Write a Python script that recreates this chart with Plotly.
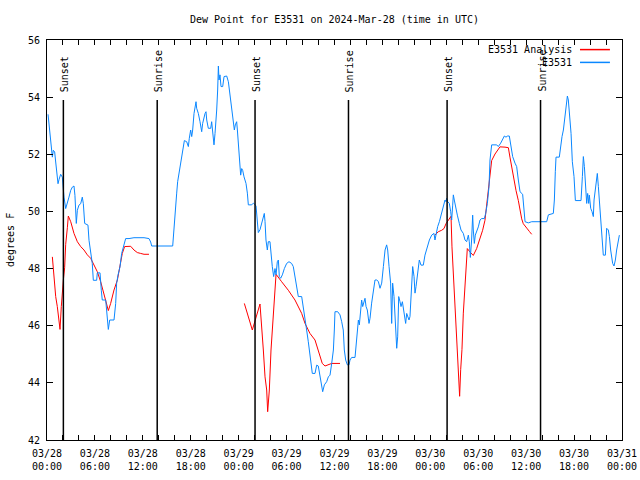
import pandas as pd
import plotly.graph_objects as go

# ---------------- data ----------------
start = pd.Timestamp("2024-03-28 00:00")

# E3531 observations (hours since 03/28 00:00 UTC, degrees F)
obs_hours = [
    0.13, 0.33, 0.46, 0.58, 0.67, 0.79, 0.96, 1.09, 1.21, 1.38, 1.5, 1.71, 1.92, 2.05, 2.13, 2.34,
    2.55, 2.75, 2.97, 3.17, 3.38, 3.5, 3.67, 3.8, 4.0, 4.22, 4.42, 4.55, 4.72, 5.13, 5.26, 5.47,
    5.67, 5.8, 6.22, 6.3, 6.64, 6.8, 6.92, 7.35, 7.47, 7.55, 7.68, 7.85, 8.39, 8.6, 8.72, 8.89,
    9.14, 9.35, 9.56, 9.85, 10.27, 10.89, 12.15, 12.77, 12.98,
    13.11, 15.74, 15.82, 15.9, 16.03, 16.16, 16.24, 16.36, 16.53, 16.66, 16.86, 17.07, 17.2, 17.49,
    17.7, 17.82, 17.99, 18.12, 18.24, 18.41, 18.53, 18.66, 18.74, 18.95, 19.16, 19.37, 19.49, 19.66,
    19.79, 19.91, 20.0, 20.2, 20.5, 20.62, 20.75, 20.91, 21.04, 21.16, 21.25, 21.37, 21.46, 21.54,
    21.66, 21.79, 22.0, 22.17, 22.5, 22.71, 22.83, 23.0, 23.13, 23.34, 23.46, 23.58, 23.75, 23.84,
    23.96, 24.09, 24.25, 24.38, 24.5, 24.67, 24.92, 25.09, 25.21, 25.63, 25.84, 26.17, 26.34, 26.46,
    26.67, 26.88, 27.09, 27.21, 27.3, 27.42, 27.59, 27.71, 27.92, 28.05, 28.21, 28.38, 28.55, 28.68,
    28.84, 28.97, 29.09, 29.26, 29.47, 29.72, 30.01, 30.3, 30.63, 30.84, 31.05, 31.26, 31.47, 31.89,
    32.1, 32.31, 32.51, 32.72, 32.93, 33.06, 33.22, 33.56, 33.77, 33.97, 34.18, 34.39, 34.52, 34.73,
    35.02, 35.23, 35.44, 35.65, 35.86, 35.98, 36.06, 36.4, 36.69, 36.9, 37.1,
    37.23, 37.4, 37.61, 37.82, 37.94, 38.15, 38.57, 38.69, 38.86, 38.99, 39.11, 39.28, 39.4, 39.53,
    39.7, 39.82, 39.95, 40.11, 40.32, 40.45, 40.65, 40.86, 41.07, 41.28, 41.49, 41.7, 41.91, 42.12,
    42.33, 42.53, 42.66, 42.83, 43.03, 43.16, 43.28, 43.45, 43.58, 43.7, 43.79, 43.91, 44.04, 44.2,
    44.33, 44.5, 44.62, 44.75, 44.91, 45.04, 45.16, 45.33, 45.45, 45.58, 45.79, 45.96, 46.08, 46.21,
    46.41, 46.62, 46.83, 47.12, 47.33, 47.62, 47.88, 48.17, 48.46, 48.58, 48.71, 48.92, 49.13, 49.34,
    49.55, 49.84, 49.96, 50.04, 50.17, 50.38, 50.55, 50.67, 50.8, 50.88, 51.0, 51.17, 51.38, 51.63,
    51.84, 52.13, 52.34, 52.55, 52.76, 52.88, 53.01, 53.17, 53.3, 53.38, 53.51, 53.63, 53.8, 54.01,
    54.22, 54.43, 54.76, 54.93, 55.14, 55.35, 55.47, 55.68, 56.31, 56.51, 56.81, 57.06, 57.27, 57.47,
    57.68, 57.89, 58.06, 58.31, 58.6, 58.81, 59.02, 59.23,
    59.56, 59.73, 59.86, 60.27, 60.69, 62.57, 62.78, 63.4, 63.53, 63.65, 63.74, 64.15, 64.32, 64.49,
    64.66, 64.78, 64.95, 65.07, 65.16, 65.28, 65.41, 65.62, 65.78, 65.99, 66.16, 66.87, 67.04, 67.16,
    67.29, 67.41, 67.58, 67.7, 67.83, 67.91, 68.08, 68.25, 68.41, 68.5, 68.66, 68.79, 68.91, 69.04,
    69.16, 69.33, 69.5, 69.66, 69.92, 70.08, 70.29, 70.42, 70.58, 70.83, 71.0, 71.17, 71.33, 71.5, 71.67,
]
obs_values = [
    53.4, 52.84, 52.49, 52.08, 51.9, 52.14, 52.08, 51.73, 51.38, 50.97, 51.11, 51.3, 51.2, 50.74, 50.5, 50.1,
    50.27, 50.5, 50.74, 50.85, 50.89, 50.56, 49.58, 50.04, 50.22, 50.27, 50.5, 50.27, 49.58, 49.52, 48.99, 48.53,
    48.18, 47.59, 47.59, 47.85, 47.85, 47.24, 46.9, 46.9, 46.55, 46.2, 45.87, 46.2, 46.2, 46.78, 47.48, 47.77,
    48.06, 48.53, 48.76, 49.05, 49.05, 49.08, 49.08, 49.05, 48.93,
    48.79, 48.79, 49.12, 49.58, 49.94, 50.29, 50.64, 51.04, 51.33, 51.68, 51.98, 52.27, 52.48, 52.44,
    52.27, 52.56, 52.85, 52.62, 52.85, 53.43, 53.73, 53.84, 53.61, 53.43, 53.14, 52.79, 53.08, 53.32,
    53.43, 53.49, 53.2, 52.91, 52.91, 53.14, 52.85, 52.33, 52.73, 53.14, 53.55, 54.25, 55.09, 54.6,
    54.78, 54.37, 54.37, 54.72, 54.74, 54.54, 54.25, 53.78, 53.49, 53.08, 52.85, 53.03, 53.14, 52.85,
    52.38, 51.91, 51.27, 51.5, 51.44, 51.21, 50.98, 50.64, 50.23, 50.23, 50.29, 50.2, 49.7, 49.26,
    49.36, 49.58, 49.82, 49.93, 49.65, 49.0, 48.65, 48.94, 48.94, 48.42, 48.07, 47.72, 48.0, 47.78,
    48.24, 48.3, 47.72, 47.66, 47.78, 48.0, 48.18, 48.24, 48.18, 48.07, 47.72, 47.25, 47.02, 47.02,
    46.67, 46.2, 45.85, 45.44, 45.03, 44.68, 44.33, 44.33, 44.62, 44.59, 44.21, 43.98, 43.69, 43.93,
    44.04, 44.21, 44.27, 44.68, 45.15, 45.85, 46.49, 46.49, 46.38, 46.14, 45.85,
    45.15, 44.8, 44.63, 44.63, 44.8, 44.89, 44.89, 45.27, 45.85, 46.2, 46.03, 46.67, 46.9, 46.67,
    46.84, 46.96, 46.67, 46.55, 46.08, 46.26, 46.79, 47.14, 47.6, 47.6, 47.55, 47.31, 47.49, 48.07,
    48.65, 48.83, 48.65, 48.07, 47.49, 46.08, 47.49, 47.02, 46.08, 45.5, 45.21, 45.61, 47.02, 46.84,
    46.67, 46.84, 46.61, 46.32, 46.08, 46.43, 46.32, 46.2, 46.32, 47.14, 48.07, 47.72, 47.14, 47.37,
    47.84, 48.3, 48.12, 48.12, 48.47, 48.77, 49.0, 49.17, 49.23, 49.0, 49.23, 49.47, 49.64, 49.88,
    50.05, 50.4, 50.34, 50.46, 50.34, 50.28, 49.99, 49.7, 50.22, 50.58, 50.4, 50.11, 49.87, 49.58,
    49.35, 49.23, 49.0, 48.94, 49.17, 48.94, 48.39, 49.0, 49.87, 49.35, 48.88, 49.17, 49.29, 49.46,
    49.7, 49.75, 49.75, 49.93, 50.28, 50.87, 51.8, 52.33, 52.33, 52.27, 52.39, 52.52, 52.64, 52.6,
    52.64, 52.64, 52.27, 51.92, 51.69, 51.57, 51.1, 50.69,
    50.6, 50.17, 49.64, 49.6, 49.64, 49.64, 49.88, 49.93, 50.4, 51.39, 51.9, 51.9, 52.38, 52.62,
    52.85, 53.2, 53.49, 53.78, 54.04, 53.9, 53.43, 52.73, 51.74, 51.22, 50.38, 50.38, 51.22, 51.92,
    51.57, 50.81, 50.28, 50.63, 50.28, 50.57, 50.11, 49.99, 49.82, 50.4, 50.87, 51.16, 51.33, 50.87,
    50.4, 49.47, 49.12, 48.47, 48.47, 49.41, 49.35, 49.12, 48.65, 48.18, 48.09, 48.3, 48.65, 49.0, 49.17,
]

# E3531 Analysis (None = gap between analysis runs)
ana_hours = [
    0.67, 0.79, 0.96, 1.09, 1.29, 1.42, 1.63, 1.79, 1.92, 2.05, 2.21, 2.34, 2.55, 2.67, 2.97, 3.38,
    3.8, 4.22, 4.63, 5.05, 5.47, 5.8, 6.3, 6.72, 7.14, 7.68, 7.97, 8.39, 8.81, 9.14, 9.43, 9.72,
    10.06, 10.48, 10.89, 11.31, 11.73, 12.15, 12.77,
    None,
    24.71, 25.71, 26.67, 26.88, 27.09, 27.3, 27.51, 27.63, 27.84, 28.05, 28.34, 28.55, 28.68, 29.38,
    30.22, 31.05, 31.89, 32.31, 32.93, 33.56, 33.97, 34.47, 34.81, 35.65, 36.69,
    None,
    48.58, 49.0, 49.42, 49.71, 49.96, 50.25, 50.59, 50.71, 50.88, 51.0, 51.17, 51.3, 51.42, 51.59,
    51.67, 51.8, 51.96, 52.13, 52.3, 52.47, 52.63, 52.97, 53.38, 53.8, 54.22, 54.55, 54.84, 55.05,
    55.26, 55.47, 55.68, 56.1, 56.51, 56.72, 57.35, 57.77, 57.97, 58.18, 58.48, 58.73, 59.02, 59.23,
    59.44, 59.64, 59.85, 60.15, 60.4, 60.69,
]
ana_values = [
    48.41, 47.95, 47.6, 47.02, 46.67, 46.32, 45.87, 46.67, 47.25, 47.6, 48.03, 48.85, 49.43, 49.84, 49.64, 49.23,
    48.94, 48.77, 48.65, 48.48, 48.36, 48.18, 47.89, 47.54, 47.13, 46.53, 46.78, 47.25, 47.6, 48.07, 48.53, 48.77,
    48.78, 48.78, 48.65, 48.56, 48.53, 48.5, 48.5,
    None,
    46.78, 45.85, 46.76, 46.08, 45.15, 44.21, 43.75, 42.99, 43.75, 45.15, 46.55, 47.24, 47.8, 47.54,
    47.24, 46.9, 46.43, 46.08, 45.73, 45.5, 45.15, 44.68, 44.59, 44.68, 44.68,
    None,
    49.17, 49.29, 49.34, 49.4, 49.57, 49.69, 49.83, 48.76, 47.83, 47.13, 46.32, 45.51, 44.81, 43.88,
    43.53, 44.46, 45.16, 46.44, 47.13, 48.06, 48.7, 48.58, 48.46, 48.7, 49.05, 49.34, 49.69, 50.27,
    50.85, 51.37, 51.78, 52.01, 52.18, 52.26, 52.25, 52.23, 51.9, 51.55, 51.14, 50.73, 50.38, 50.03,
    49.74, 49.57, 49.48, 49.39, 49.3, 49.2,
]

# Sunset / sunrise markers (hours since start)
event_hours = [2.05, 13.8, 26.05, 37.75, 50.1, 61.8]
event_labels = ["Sunset", "Sunrise", "Sunset", "Sunrise", "Sunset", "Sunrise"]

# X tick labels (every 6 hours)
tick_hours = [0, 6, 12, 18, 24, 30, 36, 42, 48, 54, 60, 66, 72]
tick_labels = ["03/28<br>00:00", "03/28<br>06:00", "03/28<br>12:00", "03/28<br>18:00",
               "03/29<br>00:00", "03/29<br>06:00", "03/29<br>12:00", "03/29<br>18:00",
               "03/30<br>00:00", "03/30<br>06:00", "03/30<br>12:00", "03/30<br>18:00",
               "03/31<br>00:00"]

y_ticks = [42, 44, 46, 48, 50, 52, 54, 56]

series_names = ["E3531 Analysis", "E3531"]
series_colors = ["#ff0000", "#0a87ff"]

# ---------------- helpers ----------------
def to_time(h):
    return None if h is None else start + pd.Timedelta(hours=h)

FONT = "DejaVu Sans Mono"

fig = go.Figure()
fig.add_trace(go.Scatter(x=[to_time(h) for h in ana_hours], y=ana_values, mode="lines",
                         line=dict(color=series_colors[0], width=1), name=series_names[0],
                         connectgaps=False, showlegend=False))
fig.add_trace(go.Scatter(x=[to_time(h) for h in obs_hours], y=obs_values, mode="lines",
                         line=dict(color=series_colors[1], width=1), name=series_names[1],
                         showlegend=False))

# event lines + labels
for h, lab in zip(event_hours, event_labels):
    t = to_time(h)
    fig.add_shape(type="line", xref="x", yref="paper", x0=t, x1=t, y0=0, y1=0.85,
                  line=dict(color="black", width=1.5))
    fig.add_annotation(x=t, xref="x", y=0.865, yref="paper", text=lab, textangle=-90,
                       showarrow=False, xanchor="center", yanchor="bottom", xshift=1,
                       font=dict(family=FONT, size=10, color="black"))

# gnuplot-style legend (text right, line sample at right)
leg_y = [0.976, 0.944]
for name, col, yy in zip(series_names, series_colors, leg_y):
    fig.add_annotation(x=0.9165, xref="paper", y=yy, yref="paper", text=name, showarrow=False,
                       xanchor="right", yanchor="middle",
                       font=dict(family=FONT, size=10, color="black"))
    fig.add_shape(type="line", xref="paper", yref="paper", x0=0.927, x1=0.979, y0=yy, y1=yy,
                  line=dict(color=col, width=1.5))

# y-axis title
fig.add_annotation(x=0, xref="paper", xshift=-37, y=0.5, yref="paper", text="degrees F",
                   textangle=-90, showarrow=False, xanchor="center", yanchor="middle",
                   font=dict(family=FONT, size=10, color="black"))

fig.update_layout(
    width=640, height=480,
    margin=dict(l=47, r=18, t=40, b=40, autoexpand=False),
    paper_bgcolor="white", plot_bgcolor="white",
    title=dict(text="Dew Point for E3531 on 2024-Mar-28 (time in UTC)", x=0.5, xref="paper",
               xanchor="center", y=1 - 19 / 480, yref="container", yanchor="middle",
               font=dict(family=FONT, size=10, color="black")),
    font=dict(family=FONT, size=10, color="black"),
)
fig.update_xaxes(
    type="date", range=[to_time(0), to_time(72)], automargin=False,
    tickmode="array", tickvals=[to_time(h) for h in tick_hours], ticktext=tick_labels,
    ticks="inside", ticklen=5, tickcolor="black", mirror="allticks", ticklabelstandoff=4,
    showline=True, linecolor="black", linewidth=1, showgrid=False, zeroline=False,
    tickfont=dict(family=FONT, size=10, color="black"),
    minor=dict(tickmode="array", tickvals=[to_time(h) for h in range(0, 73, 2)],
               ticks="inside", ticklen=5, tickcolor="black", showgrid=False),
)
fig.update_yaxes(
    range=[42, 56], tickmode="array", tickvals=y_ticks, ticktext=[str(v) for v in y_ticks],
    ticks="inside", ticklen=6, tickcolor="black", mirror="allticks", automargin=False,
    ticklabelstandoff=4,
    showline=True, linecolor="black", linewidth=1, showgrid=False, zeroline=False,
    tickfont=dict(family=FONT, size=10, color="black"),
)

fig.write_html("out.html", config={"displayModeBar": False},
               post_script="document.body.style.margin='0';document.body.style.padding='0';")
